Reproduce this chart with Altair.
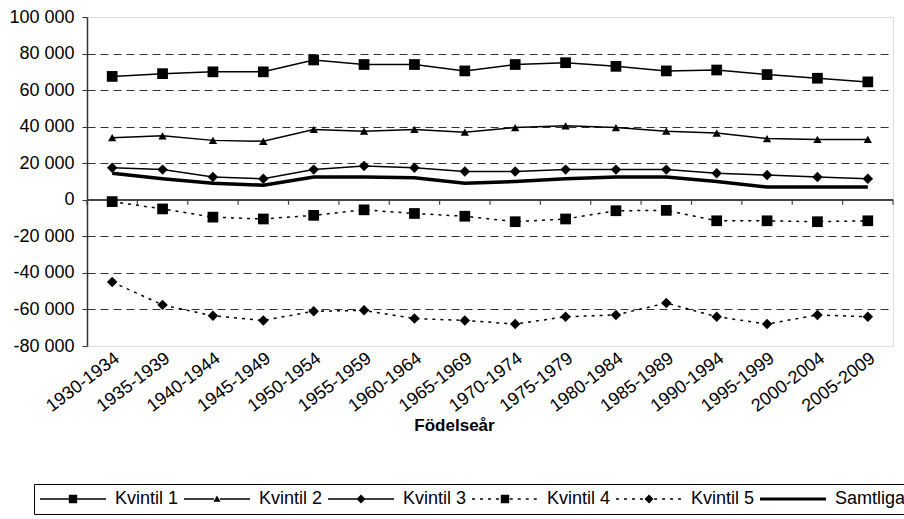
import altair as alt
import pandas as pd

categories = ["1930-1934", "1935-1939", "1940-1944", "1945-1949", "1950-1954", "1955-1959",
              "1960-1964", "1965-1969", "1970-1974", "1975-1979", "1980-1984", "1985-1989",
              "1990-1994", "1995-1999", "2000-2004", "2005-2009"]

kvintil_1 = [67500, 69000, 70000, 70000, 76500, 74000, 74000, 70500, 74000, 75000, 73000, 70500, 71000, 68500, 66500, 64500]
kvintil_2 = [34000, 35000, 32500, 32000, 38500, 37500, 38500, 37000, 39500, 40500, 39500, 37500, 36500, 33500, 33000, 33000]
kvintil_3 = [17500, 16500, 12500, 11500, 16500, 18500, 17500, 15500, 15500, 16500, 16500, 16500, 14500, 13500, 12500, 11500]
kvintil_4 = [-1000, -5000, -9500, -10500, -8500, -5500, -7500, -9000, -12000, -10500, -6000, -5800, -11500, -11500, -12000, -11500]
kvintil_5 = [-45000, -57500, -63500, -66000, -61000, -60500, -65000, -66000, -68000, -64000, -63000, -56500, -64000, -68000, -63000, -64000]
samtliga = [14500, 11500, 9000, 8000, 12500, 12500, 12000, 9000, 10000, 11500, 12500, 12500, 10000, 7000, 7000, 7000]

series_names = ["Kvintil 1", "Kvintil 2", "Kvintil 3", "Kvintil 4", "Kvintil 5", "Samtliga"]
series_values = [kvintil_1, kvintil_2, kvintil_3, kvintil_4, kvintil_5, samtliga]
y_ticks = [-80000, -60000, -40000, -20000, 0, 20000, 40000, 60000, 80000, 100000]

rows = []
for name, vals in zip(series_names, series_values):
    for c, v in zip(categories, vals):
        rows.append({"cat": c, "serie": name, "value": v})
df = pd.DataFrame(rows)
cat_df = pd.DataFrame({"cat": categories})

FONT = "Liberation Sans"

# legend symbol paths (unit = 6 px for size 144); line pieces drawn as thin filled bars
T = 0.13
def bar(a, b, t=T):
    return f"M{a:.2f},{-t:.2f}H{b:.2f}V{t:.2f}H{a:.2f}Z"

def seg_solid(a, b):
    return bar(a, b)

def seg_dotted(a, b):
    out = []
    x = a
    while x < b - 0.05:
        e = min(x + 0.5, b)
        out.append(bar(x, e))
        x += 1.33
    return "".join(out)

L = 5.5
sq = "M-0.7,-0.7H0.7V0.7H-0.7Z"
tri = "M0,-0.6L0.6,0.45H-0.6Z"
dia = "M0,-0.75L0.75,0L0,0.75L-0.75,0Z"
legend_paths = [
    seg_solid(-L, -0.6) + seg_solid(0.6, L) + sq,
    seg_solid(-L, -0.5) + seg_solid(0.5, L) + tri,
    seg_solid(-L, -0.65) + seg_solid(0.65, L) + dia,
    seg_dotted(-L, -0.8) + seg_dotted(0.8, L) + sq,
    seg_dotted(-L, -0.85) + seg_dotted(0.85, L) + dia,
    bar(-L, L, 0.27),
]

y_axis = alt.Axis(
    values=y_ticks,
    labelExpr="(datum.value < 0 ? '-' : '') + replace(format(abs(datum.value), ','), ',', ' ')",
    labelFont=FONT, labelFontSize=18, labelColor="black", labelPadding=8, labelOverlap=False,
    tickSize=5, tickColor="#333", domainColor="#333", domainWidth=1.5,
    grid=True, gridColor="#333", gridDash=[8, 5], gridWidth=1,
    gridOpacity={"condition": {"test": "datum.value === 0 || datum.value === -80000 || datum.value === 100000", "value": 0}, "value": 1},
    title=None,
)
y_scale = alt.Scale(domain=[-80000, 100000], nice=False, zero=False)
y_enc = alt.Y("value:Q", scale=y_scale, axis=y_axis)
y_zero = alt.YDatum(0, type="quantitative", scale=y_scale, axis=y_axis)

x_scale = alt.Scale(type="band", paddingInner=0, paddingOuter=0)
label_axis = alt.Axis(orient="bottom", labelAngle=-37, ticks=False, domain=False, grid=False,
                      labelFont=FONT, labelFontSize=18, labelColor="black", labelPadding=3,
                      labelOverlap=False,
                      title="Födelseår", titleFont=FONT, titleFontSize=17, titleFontWeight="bold",
                      titleColor="black", titleX=367, titleY=71, titleBaseline="top")

def x_enc(pos=0.5):
    return alt.X("cat:O", sort=categories, scale=x_scale, bandPosition=pos, axis=label_axis)

base = alt.Chart(df)

zero_line = base.mark_rule(color="#444", strokeWidth=1.5).encode(y=y_zero)

ticks = alt.Chart(cat_df).mark_rule(color="#444", strokeWidth=1.2, y2Offset=5).encode(
    x=x_enc(0), y=y_zero, y2=alt.Y2Datum(0))
last_tick = alt.Chart(cat_df).mark_rule(color="#444", strokeWidth=1.2, y2Offset=5).encode(
    x=x_enc(1), y=y_zero, y2=alt.Y2Datum(0)
).transform_filter(alt.FieldEqualPredicate(field="cat", equal=categories[-1]))

solid = base.mark_line(color="black", strokeWidth=1.5).encode(
    x=x_enc(), y=y_enc, detail="serie:N",
).transform_filter(alt.FieldOneOfPredicate(field="serie", oneOf=["Kvintil 1", "Kvintil 2", "Kvintil 3"]))

dotted = base.mark_line(color="black", strokeWidth=1.5, strokeDash=[3, 5]).encode(
    x=x_enc(), y=y_enc, detail="serie:N",
).transform_filter(alt.FieldOneOfPredicate(field="serie", oneOf=["Kvintil 4", "Kvintil 5"]))

thick = base.mark_line(color="black", strokeWidth=3.5).encode(
    x=x_enc(), y=y_enc,
).transform_filter(alt.FieldEqualPredicate(field="serie", equal="Samtliga"))

squares = base.mark_point(shape="square", filled=True, color="black", size=115, opacity=1).encode(
    x=x_enc(), y=y_enc).transform_filter(alt.FieldOneOfPredicate(field="serie", oneOf=["Kvintil 1", "Kvintil 4"]))
triangles = base.mark_point(shape="triangle-up", filled=True, color="black", size=70, opacity=1).encode(
    x=x_enc(), y=y_enc).transform_filter(alt.FieldEqualPredicate(field="serie", equal="Kvintil 2"))
diamonds = base.mark_point(shape="diamond", filled=True, color="black", size=110, opacity=1).encode(
    x=x_enc(), y=y_enc).transform_filter(alt.FieldOneOfPredicate(field="serie", oneOf=["Kvintil 3", "Kvintil 5"]))

legend_layer = base.mark_point(filled=True, color="black", opacity=1).encode(
    x=alt.value(-2000), y=alt.value(-2000),
    shape=alt.Shape("serie:N", scale=alt.Scale(domain=series_names, range=legend_paths),
                    legend=alt.Legend(orient="none", legendX=-53, legendY=467, direction="horizontal",
                                      title=None, symbolSize=144, symbolOffset=24, labelOffset=33,
                                      symbolFillColor="black", symbolStrokeColor="black",
                                      symbolStrokeWidth=0, symbolOpacity=1,
                                      labelFont=FONT, labelFontSize=18, labelColor="black",
                                      columnPadding=5, padding=6, strokeColor="black",
                                      fillColor="white", labelLimit=300)),
)

chart = alt.layer(zero_line, ticks, last_tick, solid, dotted, thick, squares, triangles, diamonds,
                  legend_layer).properties(
    width=806, height=329,
    autosize=alt.AutoSizeParams(type="none"),
    padding={"left": 87, "top": 17, "right": 11, "bottom": 173},
    background="white",
).configure_view(stroke="#888", strokeWidth=2).configure(font=FONT)

chart.save("out.html", embed_options={"renderer": "svg", "actions": False})
